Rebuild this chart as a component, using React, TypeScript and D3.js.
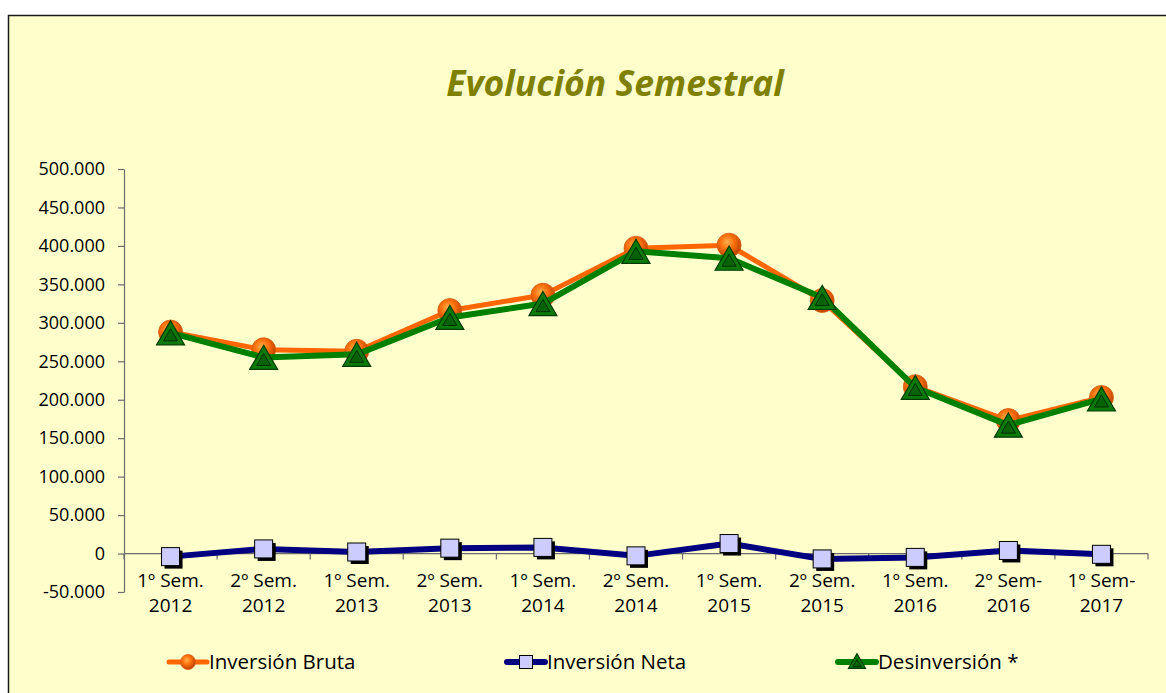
import React, { useEffect, useRef } from "react";
import * as d3 from "d3";

// data
const periodos = [
  "1º Sem.|2012",
  "2º Sem.|2012",
  "1º Sem.|2013",
  "2º Sem.|2013",
  "1º Sem.|2014",
  "2º Sem.|2014",
  "1º Sem.|2015",
  "2º Sem.|2015",
  "1º Sem.|2016",
  "2º Sem-|2016",
  "1º Sem-|2017",
];
const inversionBruta = [288000, 265000, 263000, 316000, 336000, 397000, 401000, 329000, 217000, 173000, 203000];
const inversionNeta = [-4000, 6000, 2000, 7000, 8000, -3000, 13000, -7000, -5000, 4000, -1000];
const desinversion = [287000, 255000, 259000, 307000, 325000, 393000, 384000, 333000, 216000, 167000, 201000];
const yTicks = [-50000, 0, 50000, 100000, 150000, 200000, 250000, 300000, 350000, 400000, 450000, 500000];
const serieNombres = ["Inversión Bruta", "Inversión Neta", "Desinversión *"];

const FONT = "'Open Sans', sans-serif";

const App = () => {
  const svgRef = useRef<SVGSVGElement | null>(null);

  useEffect(() => {
    const marginLeft = 124;
    const plotRight = 1148;
    const plotTop = 169;
    const plotBottom = 592;

    const svg = d3.select(svgRef.current);
    svg.selectAll("*").remove();

    const defs = svg.append("defs");
    const grad = defs
      .append("radialGradient")
      .attr("id", "ball")
      .attr("cx", "42%")
      .attr("cy", "38%")
      .attr("r", "60%");
    grad.append("stop").attr("offset", "0%").attr("stop-color", "#FFB24D");
    grad.append("stop").attr("offset", "45%").attr("stop-color", "#FF7410");
    grad.append("stop").attr("offset", "100%").attr("stop-color", "#C24400");

    // chart area
    svg
      .append("rect")
      .attr("x", 8.5)
      .attr("y", 15.5)
      .attr("width", 1300)
      .attr("height", 800)
      .attr("fill", "#FFFFCC")
      .attr("stroke", "#1a1a1a")
      .attr("stroke-width", 1.5);

    svg
      .append("text")
      .attr("x", 615)
      .attr("y", 96)
      .attr("text-anchor", "middle")
      .attr("font-family", FONT)
      .attr("font-size", 35.5)
      .attr("font-weight", "bold")
      .attr("font-style", "italic")
      .attr("fill", "#808000")
      .text("Evolución Semestral");

    const x = d3
      .scaleBand()
      .domain(periodos)
      .range([marginLeft, plotRight]);

    const y = d3
      .scaleLinear()
      .domain([-50000, 500000])
      .range([plotBottom, plotTop]);

    const fmt = d3
      .formatLocale({
        decimal: ",",
        thousands: ".",
        grouping: [3],
        currency: ["", ""],
        minus: "-",
      })
      .format(",d");

    // y axis
    const yAxis = svg
      .append("g")
      .attr("transform", `translate(${marginLeft},0)`)
      .call(
        d3
          .axisLeft(y)
          .tickValues(yTicks)
          .tickSize(6)
          .tickSizeOuter(0)
          .tickPadding(13)
          .tickFormat((d) => fmt(d as number))
      );
    yAxis.selectAll(".domain,line").attr("stroke", "#6b6b6b").attr("stroke-width", 1.2);
    yAxis
      .selectAll("text")
      .attr("font-family", FONT)
      .attr("font-size", 18)
      .attr("fill", "#000");

    // x axis on the zero line
    const xAxis = svg
      .append("g")
      .attr("transform", `translate(0,${y(0)})`);
    xAxis
      .append("line")
      .attr("x1", marginLeft)
      .attr("x2", plotRight)
      .attr("stroke", "#6b6b6b")
      .attr("stroke-width", 1.2);
    xAxis
      .selectAll("line.tick")
      .data([...periodos.map((p) => x(p)!), plotRight])
      .join("line")
      .attr("class", "tick")
      .attr("x1", (d) => d)
      .attr("x2", (d) => d)
      .attr("y1", 0)
      .attr("y2", 6)
      .attr("stroke", "#6b6b6b")
      .attr("stroke-width", 1.2);

    svg
      .append("g")
      .selectAll("text")
      .data(periodos)
      .join("text")
      .attr("font-family", FONT)
      .attr("font-size", 19)
      .attr("fill", "#000")
      .attr("text-anchor", "middle")
      .each(function (d) {
        const [a, b] = d.split("|");
        const cx = x(d)! + x.bandwidth() / 2;
        const t = d3.select(this);
        t.append("tspan").attr("x", cx).attr("y", 587).text(a);
        t.append("tspan").attr("x", cx).attr("y", 612).text(b);
      });

    const cx = (i: number) => x(periodos[i])! + x.bandwidth() / 2;

    const line = d3
      .line<number>()
      .x((_, i) => cx(i))
      .y((d) => y(d));

    const drawBall = (g: any, px: number, py: number, r: number) => {
      g.append("circle")
        .attr("cx", px)
        .attr("cy", py)
        .attr("r", r)
        .attr("fill", "url(#ball)")
        .attr("stroke", "#D86010")
        .attr("stroke-width", 0.8);
    };

    const drawSquare = (g: any, px: number, py: number, s: number, shadow: boolean) => {
      if (shadow)
        g.append("rect")
          .attr("x", px - s / 2 + 3)
          .attr("y", py - s / 2 + 3)
          .attr("width", s)
          .attr("height", s)
          .attr("fill", "#000");
      g.append("rect")
        .attr("x", px - s / 2)
        .attr("y", py - s / 2)
        .attr("width", s)
        .attr("height", s)
        .attr("fill", "#CCCCFF")
        .attr("stroke", "#000")
        .attr("stroke-width", 1);
    };

    const drawTri = (g: any, px: number, py: number, w: number) => {
      const h = w * 0.86;
      const pts = (k: number, dy: number) =>
        [
          [px, py - (h / 2) * k + dy],
          [px + (w / 2) * k, py + (h / 2) * k + dy],
          [px - (w / 2) * k, py + (h / 2) * k + dy],
        ]
          .map((p) => p.join(","))
          .join(" ");
      g.append("polygon")
        .attr("points", pts(1, 0))
        .attr("fill", "#0B7A0B")
        .attr("stroke", "#013D01")
        .attr("stroke-width", 1.2);
      g.append("polygon")
        .attr("points", pts(0.5, 2))
        .attr("fill", "#086308")
        .attr("stroke", "#013001")
        .attr("stroke-width", 1);
    };

    const series = [
      { values: inversionBruta, color: "#FF6600", width: 5, marker: "ball" },
      { values: inversionNeta, color: "#000080", width: 6, marker: "square" },
      { values: desinversion, color: "#008000", width: 6, marker: "tri" },
    ];

    series.forEach((s) => {
      const g = svg.append("g");
      g.append("path")
        .attr("d", line(s.values))
        .attr("fill", "none")
        .attr("stroke", s.color)
        .attr("stroke-width", s.width)
        .attr("stroke-linejoin", "round");
      s.values.forEach((v, i) => {
        if (s.marker === "ball") drawBall(g, cx(i), y(v), 12);
        else if (s.marker === "square") drawSquare(g, cx(i), y(v), 18, true);
        else drawTri(g, cx(i), y(v), 28);
      });
    });

    // legend
    const legendX = [169, 507, 838];
    const legendY = 662;
    series.forEach((s, i) => {
      const g = svg.append("g");
      const x0 = legendX[i];
      g.append("line")
        .attr("x1", x0)
        .attr("x2", x0 + 38)
        .attr("y1", legendY)
        .attr("y2", legendY)
        .attr("stroke", s.color)
        .attr("stroke-width", s.width)
        .attr("stroke-linecap", "round");
      if (s.marker === "ball") drawBall(g, x0 + 19, legendY, 7.5);
      else if (s.marker === "square") drawSquare(g, x0 + 19, legendY, 13, false);
      else drawTri(g, x0 + 19, legendY - 1, 17);
      g.append("text")
        .attr("x", x0 + 40)
        .attr("y", legendY + 7)
        .attr("font-family", FONT)
        .attr("font-size", 20.5)
        .attr("fill", "#000")
        .text(serieNombres[i]);
    });
  }, []);

  return (
    <svg
      ref={svgRef}
      width={1166}
      height={693}
      style={{ position: "absolute", left: 0, top: 0, display: "block" }}
    />
  );
};

export default App;
